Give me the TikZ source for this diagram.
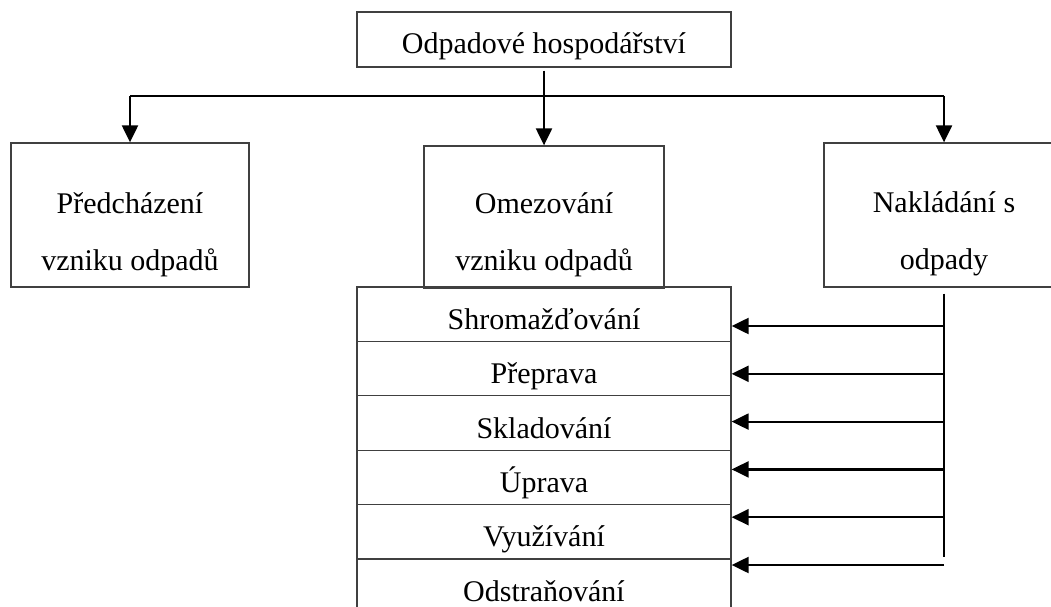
\documentclass[tikz,border=0pt]{standalone}
\usepackage{fontspec}
\setmainfont{Liberation Serif}
\usetikzlibrary{arrows.meta}

\begin{document}
\begin{tikzpicture}[x=1pt,y=-1pt,
  darkbox/.style={draw=black!75,line width=1.3pt,inner sep=0pt},
  boxtext/.style={inner sep=0pt,align=center,font=\fontsize{30}{57}\selectfont},
  rowbox/.style={darkbox,boxtext,minimum width=374pt,minimum height=54.4pt,text height=30pt,text depth=0pt},
  wire/.style={line width=2.2pt},
  link/.style={wire,-{Triangle[length=17pt,width=16pt]}}]
  \path[use as bounding box,clip] (0,0) rectangle (1051,607);

  \node [darkbox,boxtext,minimum width=374pt,minimum height=55pt,text height=28pt,text depth=0pt] (hosp) at (544,39.5) {Odpadové hospodářství};
  \node [darkbox,minimum width=238pt,minimum height=144pt] (predch) at (130,215) {};
  \node [darkbox,minimum width=240pt,minimum height=142pt] (omez) at (544,217) {};
  \node [darkbox,minimum width=240pt,minimum height=144pt] (naklad) at (944,215) {};
  \node [boxtext,yshift=-20pt] (predchtxt) at (predch.center) {Předcházení\\vzniku odpadů};
  \node [boxtext,yshift=-18pt] (omeztxt) at (omez.center) {Omezování\\vzniku odpadů};
  \node [boxtext,yshift=-19pt] (nakladtxt) at (naklad.center) {Nakládání s\\odpady};

  \foreach \name [count=\i] in {Shromažďování,Přeprava,Skladování,Úprava,Využívání,Odstraňování}
  {
    \pgfmathsetmacro\rowy{287+54.4*(\i-0.5)}
    \node [rowbox] (row\i) at (544,\rowy) {\name};
  }

  \coordinate (split) at (544,96);
  \draw [wire] (split -| predch.north) -- (split -| naklad.north);
  \draw [link] (split -| predch.north) -- (predch.north);
  \draw [link] (split -| naklad.north) -- (naklad.north);
  \draw [link] ([yshift=-3pt]hosp.south) -- (omez.north);

  \coordinate (bustop) at ([yshift=-6pt]naklad.south);
  \coordinate (busend) at (naklad.south |- 0,557);
  \draw [wire] (bustop) -- (busend);
  \foreach \i in {1,...,6}
  {
    \pgfmathsetmacro\busy{326+47.8*(\i-1)}
    \coordinate (bus\i) at (944,\busy);
    \draw [link] (bus\i) -- (bus\i -| row1.east);
  }
\end{tikzpicture}
\end{document}
